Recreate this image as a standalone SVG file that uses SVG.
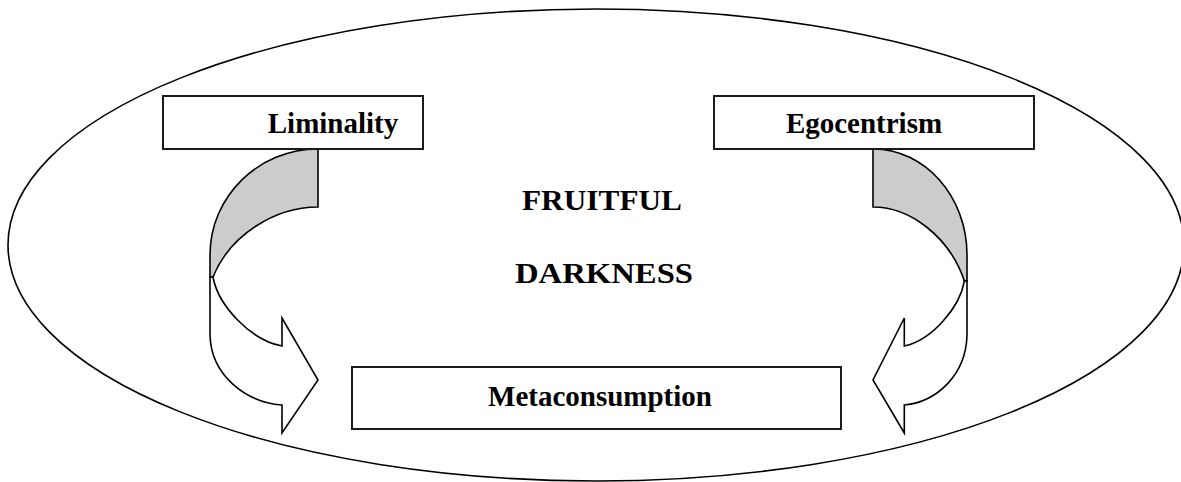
<svg xmlns="http://www.w3.org/2000/svg" width="1181" height="482" viewBox="0 0 1181 482">
<style>
.oval{fill:none;stroke:#000;stroke-width:1.6}
.box{fill:#fff;stroke:#1a1a1a;stroke-width:2}
.back{fill:#cccccc;stroke:#000;stroke-width:1.6;stroke-linejoin:miter}
.front{fill:#fff;stroke:#000;stroke-width:1.6;stroke-linejoin:miter}
.lbl{font-family:"Liberation Serif","Times New Roman",serif;font-weight:bold;font-size:29px;fill:#000;text-anchor:middle}
</style>
<rect width="1181" height="482" fill="#fff"/>
<g id="oval"><ellipse class="oval" cx="596" cy="245" rx="588" ry="236"/></g>
<g id="center-label">
<text class="lbl" x="602" y="210" textLength="160" lengthAdjust="spacingAndGlyphs">FRUITFUL</text>
<text class="lbl" x="604" y="283" textLength="178" lengthAdjust="spacingAndGlyphs">DARKNESS</text>
</g>
<g id="connectors">
<g id="arrow-left">
<path class="back" d="M318,149 L318,207 C275,207 230,235 213,277 L210,277 L210,255 C210,196.5 258.4,149 318,149 Z"/>
<path class="front" d="M210,277 L210,335 C211,375 245,402 282,405 L282,433 L318,380 L282,318 L282,346 C250,340 218,305 213,277 Z"/>
</g>
<g id="arrow-right">
<path class="back" d="M873,149 L873,207 C910.4,207 949.6,237 964.4,281 L967,281 L967,255 C967,196.5 924.9,149 873,149 Z"/>
<path class="front" d="M967,281 L967,335 C966.1,375 936.5,402 904.3,405 L904.3,433 L873,380 L904.3,318 L904.3,346 C932.2,340 960,307 964.4,281 Z"/>
</g>
</g>
<g id="node-liminality">
<rect class="box" x="163" y="96" width="260" height="53"/>
<text class="lbl" x="333" y="133">Liminality</text>
</g>
<g id="node-egocentrism">
<rect class="box" x="714" y="96" width="320" height="53"/>
<text class="lbl" x="864" y="133">Egocentrism</text>
</g>
<g id="node-metaconsumption">
<rect class="box" x="352" y="367" width="489" height="62"/>
<text class="lbl" x="600" y="406">Metaconsumption</text>
</g>
</svg>
